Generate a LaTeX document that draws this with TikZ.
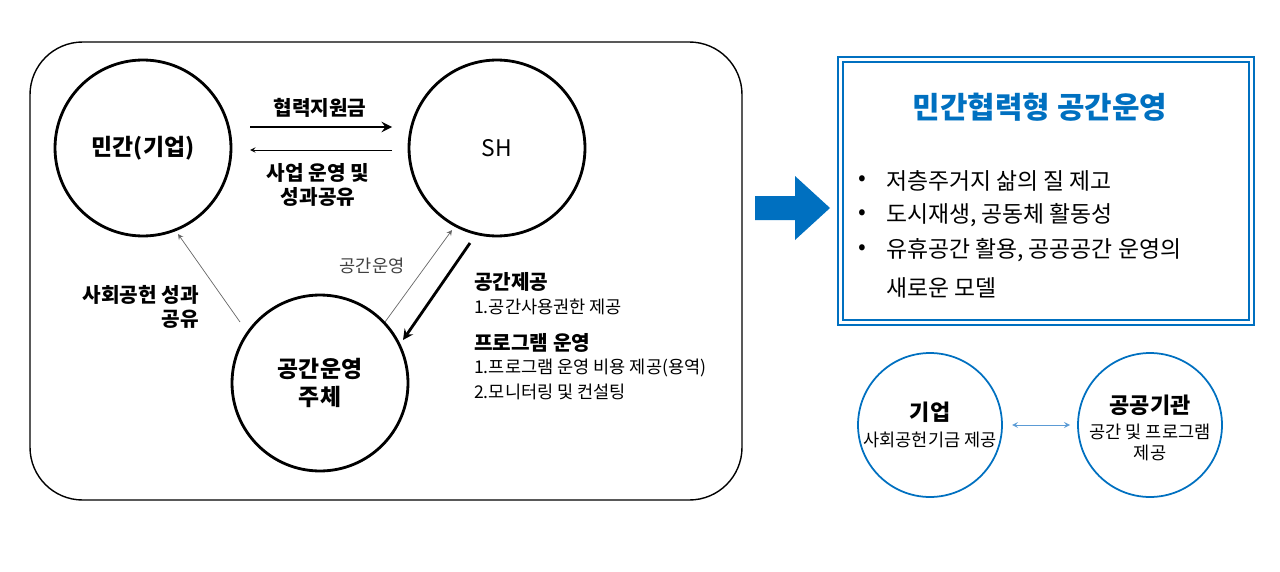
\documentclass[tikz,border=0pt]{standalone}
\usepackage{fontspec}
\setmainfont{Noto Sans CJK KR}
\definecolor{shblue}{HTML}{0070C0}
\definecolor{lineblue}{HTML}{5B9BD5}
\begin{document}
\begin{tikzpicture}[x=0.02cm,y=-0.02cm,
  bigc/.style={draw,circle,line width=1.6pt,minimum size=3.52cm,align=center,font=\fontsize{13}{16}\selectfont\bfseries},
  smc/.style={draw=shblue,circle,line width=1pt,minimum size=2.88cm,align=center},
  lbl/.style={font=\fontsize{11.5}{14}\selectfont\bfseries,align=center},
  sml/.style={font=\fontsize{10}{12}\selectfont},
  bul/.style={font=\fontsize{13}{15}\selectfont,anchor=west}]
\useasboundingbox (0,0) rectangle (1280,571);
\draw[line width=0.8pt,rounded corners=30pt] (30,42) rectangle (742,500);
\node[bigc] (priv) at (143,148) {민간(기업)};
\node[bigc,font=\fontsize{13}{16}\selectfont] (sh) at (497,148) {SH};
\node[bigc] (op) at (320,383) {공간운영\\주체};

\draw[line width=1.6pt,-stealth] (250,127) -- (392,127);
\node[lbl] (fund) at (320,108) {협력지원금};
\draw[line width=0.4pt,-stealth] (392,150) -- (250,150);
\node[lbl] (share) at (318,185) {사업 운영 및\\성과공유};
\draw[line width=0.4pt,gray!80!black,-stealth] (240,322) -- (178,234);
\node[lbl,align=right,anchor=east] (csr) at (205,307) {사회공헌 성과\\공유};
\draw[line width=0.4pt,gray!80!black,-stealth] (385,322) -- (452,230);
\node[sml,text=black!75] (opl) at (372,266) {공간운영};
\draw[line width=1.6pt,-stealth] (470,243) -- (403,340);

\node[lbl,anchor=west] (t1) at (468,282) {공간제공};
\node[sml,anchor=west] (t2) at (468,307) {1.공간사용권한 제공};
\node[lbl,anchor=west] (t3) at (468,343) {프로그램 운영};
\node[sml,anchor=west] (t4) at (468,368) {1.프로그램 운영 비용 제공(용역)};
\node[sml,anchor=west] (t5) at (468,392) {2.모니터링 및 컨설팅};

\fill[shblue] (755,196) -- (795,196) -- (795,176) -- (830,208) -- (795,240) -- (795,220) -- (755,220) -- cycle;

\draw[shblue,line width=1.5pt] (838,57) rectangle (1254,325);
\draw[shblue,line width=1.5pt] (843,62) rectangle (1249,320);
\node[text=shblue,font=\fontsize{17}{20}\selectfont\bfseries] (title) at (1040,107) {민간협력형 공간운영};
\foreach \y/\t in {181/저층주거지 삶의 질 제고,215/{도시재생, 공동체 활동성},250/{유휴공간 활용, 공공공간 운영의}}{
  \node[bul] at (852,\y) {•};
  \node[bul] at (880,\y) {\t};
}
\node[bul] at (880,288) {새로운 모델};

\node[smc] (corp) at (930,425) {};
\node[font=\fontsize{12.5}{15}\selectfont\bfseries] at (930,412) {기업};
\node[sml] at (930,440) {사회공헌기금 제공};
\node[smc] (pub) at (1150,425) {};
\node[font=\fontsize{12.5}{15}\selectfont\bfseries] at (1150,405) {공공기관};
\node[sml,align=center] at (1150,442) {공간 및 프로그램\\제공};
\draw[lineblue,line width=0.5pt,stealth-stealth] (1012,425) -- (1070,425);
\end{tikzpicture}
\end{document}
